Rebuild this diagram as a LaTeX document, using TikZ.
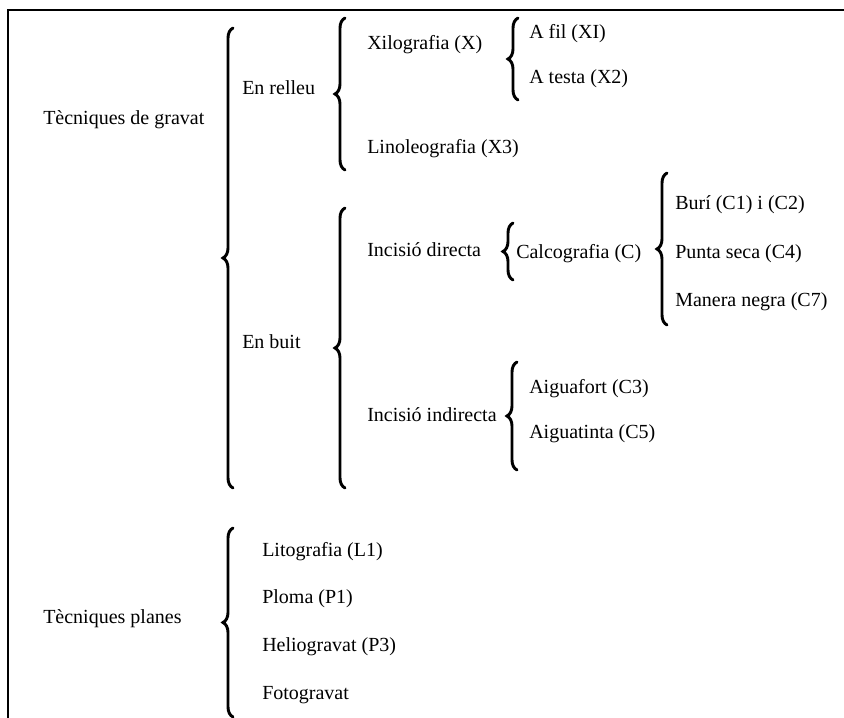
\documentclass[tikz,border=0pt]{standalone}
\usepackage{fontspec}
\setmainfont{Liberation Serif}
\usetikzlibrary{decorations.pathreplacing}
\tikzset{
  lbl/.style={anchor=base west, inner sep=0pt, font=\fontsize{15}{18}\selectfont},
  clau/.style={decorate, decoration={brace, amplitude=7.5pt}, line width=2.2pt, line cap=round},
  marc/.style={line width=0.9pt},
}
\begin{document}
\begin{tikzpicture}[x=0.75pt,y=-0.75pt]
  \useasboundingbox (0,0) rectangle (844,718);
  % frame
  \draw[marc] (844,10) -- (8,10) -- (8,718);

  % first level
  \node[lbl] (gravat) at (43,124) {Tècniques de gravat};
  \node[lbl] (planes) at (43,623) {Tècniques planes};

  % gravat
  \node[lbl] (relleu) at (242,94) {En relleu};
  \node[lbl] (buit) at (242,348) {En buit};
  \node[lbl] (xilo) at (367,49) {Xilografia (X)};
  \node[lbl] (lino) at (367,153) {Linoleografia (X3)};
  \node[lbl] (afil) at (529,38) {A fil (XI)};
  \node[lbl] (atesta) at (529,83) {A testa (X2)};
  \node[lbl] (directa) at (367,256) {Incisió directa};
  \node[lbl] (calco) at (516,258) {Calcografia (C)};
  \node[lbl] (buri) at (675,209) {Burí (C1) i (C2)};
  \node[lbl] (punta) at (675,258) {Punta seca (C4)};
  \node[lbl] (manera) at (675,306) {Manera negra (C7)};
  \node[lbl] (indirecta) at (367,421) {Incisió indirecta};
  \node[lbl] (aiguafort) at (529,393) {Aiguafort (C3)};
  \node[lbl] (aiguatinta) at (529,438) {Aiguatinta (C5)};

  % planes
  \node[lbl] (lito) at (262,556) {Litografia (L1)};
  \node[lbl] (ploma) at (262,603) {Ploma (P1)};
  \node[lbl] (helio) at (262,651) {Heliogravat (P3)};
  \node[lbl] (foto) at (262,699) {Fotogravat};

  % braces
  \draw[clau] (233,488) -- (233,28);
  \draw[clau] (345,170) -- (345,18);
  \draw[clau] (345,488) -- (345,208);
  \draw[clau] (518,100) -- (518,18);
  \draw[clau] (513,280) -- (513,223);
  \draw[clau] (667,325) -- (667,173);
  \draw[clau] (517,470) -- (517,362);
  \draw[clau] (233,717) -- (233,528);
\end{tikzpicture}
\end{document}
